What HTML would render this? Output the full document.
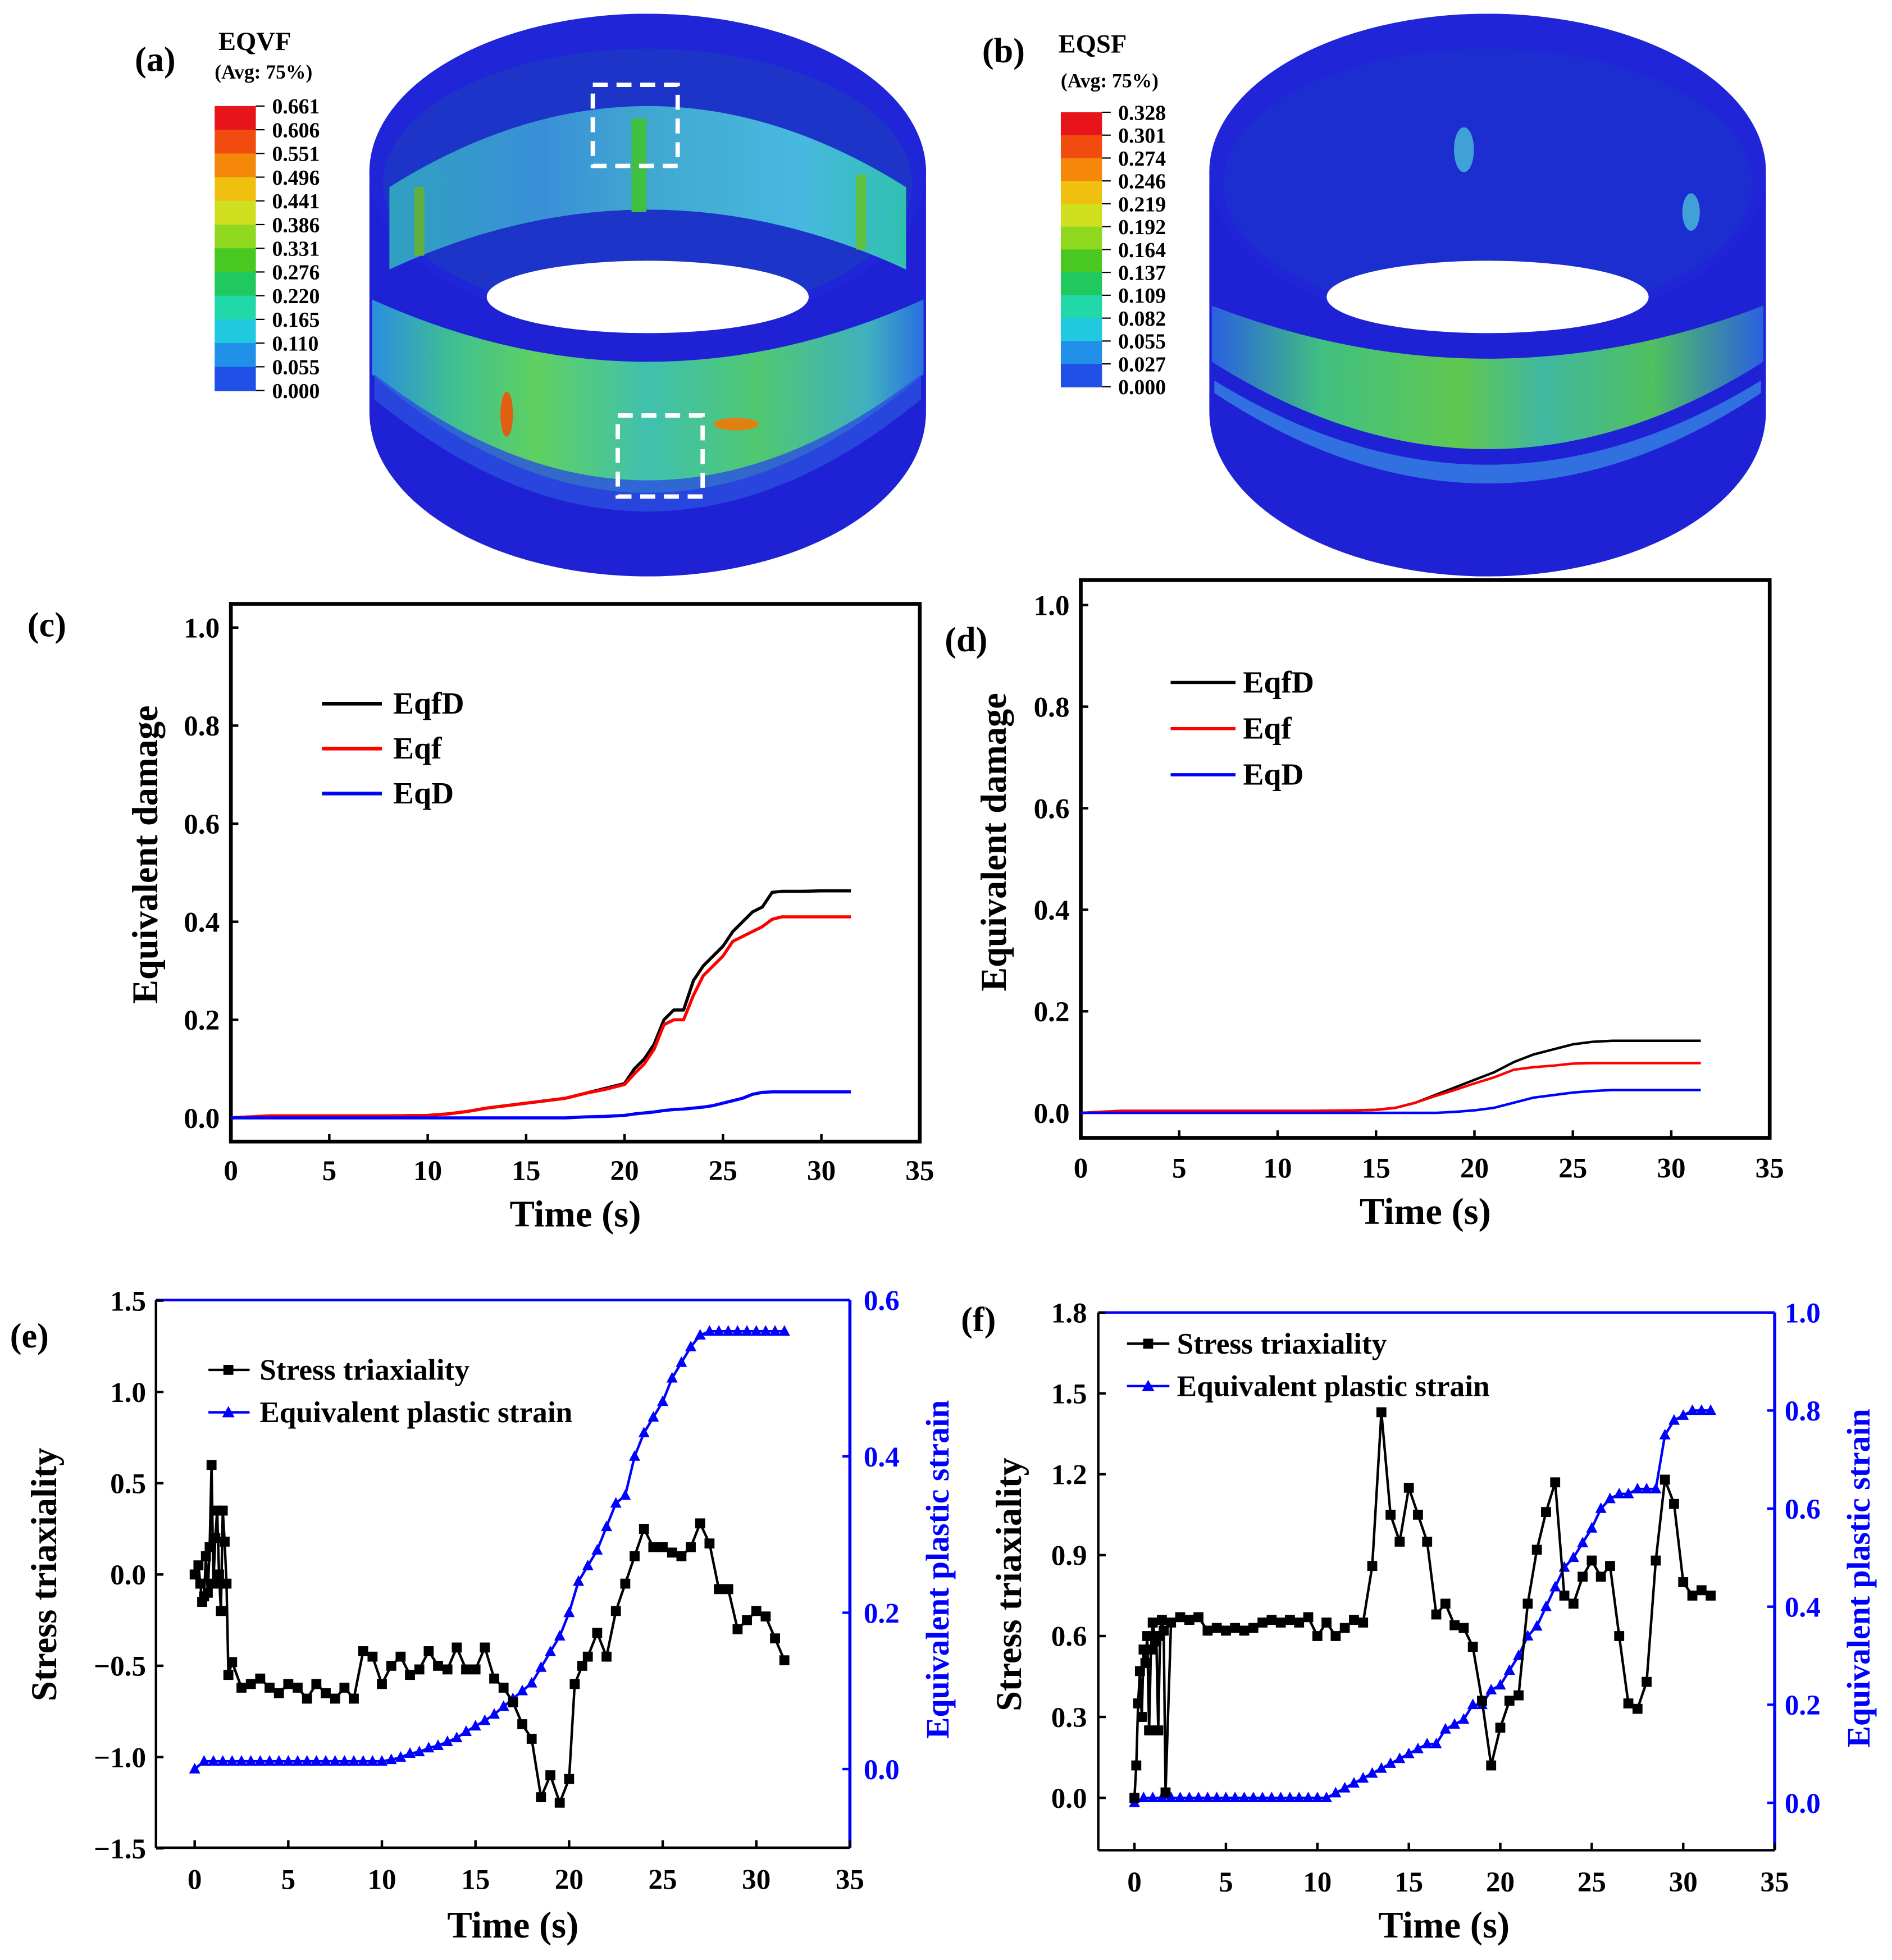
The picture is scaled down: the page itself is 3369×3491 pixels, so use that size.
<!DOCTYPE html>
<html><head><meta charset="utf-8"><style>
html,body{margin:0;padding:0;background:#fff;}
svg{display:block;}
text{font-family:"Liberation Serif",serif;font-weight:bold;}
</style></head><body>
<svg id="fig" xmlns="http://www.w3.org/2000/svg" width="3369" height="3491" viewBox="0 0 1516 1571" preserveAspectRatio="none">
<defs>
<linearGradient id="bandA" x1="0" x2="1" y1="0" y2="0">
<stop offset="0" stop-color="#2b8ee0"/><stop offset="0.15" stop-color="#40c090"/><stop offset="0.3" stop-color="#60d060"/><stop offset="0.5" stop-color="#40c0b0"/><stop offset="0.7" stop-color="#50c870"/><stop offset="0.9" stop-color="#40b0c0"/><stop offset="1" stop-color="#2a70e0"/>
</linearGradient>
<linearGradient id="innerA" x1="0" x2="1" y1="0" y2="0">
<stop offset="0" stop-color="#30a0c0"/><stop offset="0.3" stop-color="#3a90d8"/><stop offset="0.5" stop-color="#40a8d0"/><stop offset="0.8" stop-color="#48b8e0"/><stop offset="1" stop-color="#30c0b0"/>
</linearGradient>
<linearGradient id="bandB" x1="0" x2="1" y1="0" y2="0">
<stop offset="0" stop-color="#2a60e0"/><stop offset="0.2" stop-color="#40c080"/><stop offset="0.45" stop-color="#60c850"/><stop offset="0.6" stop-color="#40b8a0"/><stop offset="0.8" stop-color="#50c060"/><stop offset="1" stop-color="#2a60e0"/>
</linearGradient>
</defs>

<!-- Panel (a) -->
<g>
<text x="108" y="57" font-size="28">(a)</text>
<text x="175" y="40" font-size="21">EQVF</text>
<text x="172" y="63" font-size="16">(Avg: 75%)</text>
<g id="cbarA"></g>
<g>
<path d="M296,138 L296,330 A223,132 0 0 0 742,330 L742,138 A223,127 0 0 0 296,138 Z" fill="#1f22d4"/>
<path d="M298,240 Q519,340 740,240 L740,300 Q519,490 298,300 Z" fill="url(#bandA)"/>
<path d="M300,300 Q519,470 738,300 L738,320 Q519,500 300,320 Z" fill="#2a50e0" opacity="0.8"/>
<ellipse cx="406" cy="332" rx="5" ry="18" fill="#e06010"/>
<ellipse cx="590" cy="340" rx="18" ry="5" fill="#e08010"/>
<ellipse cx="519" cy="138" rx="223" ry="127" fill="#2026d8"/>
<ellipse cx="519" cy="147" rx="212" ry="108" fill="#1c34c8"/>
<path d="M312,150 Q519,20 726,150 L726,216 Q519,120 312,216 Z" fill="url(#innerA)"/>
<rect x="506" y="95" width="12" height="75" fill="#40c040"/>
<rect x="686" y="140" width="8" height="60" fill="#60c040"/>
<rect x="332" y="150" width="8" height="55" fill="#60b040"/>
<ellipse cx="519" cy="238" rx="129" ry="29" fill="#ffffff"/>
<rect x="475" y="68" width="68" height="65" fill="none" stroke="#fff" stroke-width="3.5" stroke-dasharray="12,7"/>
<rect x="495" y="333" width="68" height="65" fill="none" stroke="#fff" stroke-width="3.5" stroke-dasharray="12,7"/>
</g>
</g>

<!-- Panel (b) -->
<g>
<text x="787" y="50" font-size="28">(b)</text>
<text x="848" y="42" font-size="21">EQSF</text>
<text x="850" y="70" font-size="16">(Avg: 75%)</text>
<g id="cbarB"></g>
<g transform="translate(673,0)">
<path d="M296,138 L296,330 A223,132 0 0 0 742,330 L742,138 A223,127 0 0 0 296,138 Z" fill="#1f22d4"/>
<path d="M298,245 Q519,330 740,245 L740,290 Q519,430 298,290 Z" fill="url(#bandB)"/>
<path d="M300,305 Q519,440 738,305 L738,315 Q519,460 300,315 Z" fill="#3070e0"/>
<ellipse cx="519" cy="138" rx="223" ry="127" fill="#2026d8"/>
<ellipse cx="519" cy="147" rx="212" ry="108" fill="#1c2ed0"/>
<ellipse cx="500" cy="120" rx="8" ry="18" fill="#40a0d8"/>
<ellipse cx="682" cy="170" rx="7" ry="15" fill="#40a0d8"/>
<ellipse cx="519" cy="238" rx="129" ry="29" fill="#ffffff"/>
</g>
</g>

<!-- Panel (c) -->
<g>
<text x="22" y="510" font-size="28">(c)</text>
<rect x="185" y="484" width="552" height="431" fill="none" stroke="#000" stroke-width="3"/>
<g id="chartC"></g>
<text transform="translate(126,685) rotate(-90)" text-anchor="middle" font-size="29">Equivalent damage</text>
<text x="461" y="983" text-anchor="middle" font-size="30">Time (s)</text>
<g>
<line x1="258" y1="564" x2="306" y2="564" stroke="#000" stroke-width="3"/>
<text x="315" y="572" font-size="25">EqfD</text>
<line x1="258" y1="600" x2="306" y2="600" stroke="#ff0000" stroke-width="3"/>
<text x="315" y="608" font-size="25">Eqf</text>
<line x1="258" y1="636" x2="306" y2="636" stroke="#0000ff" stroke-width="3"/>
<text x="315" y="644" font-size="25">EqD</text>
</g>
</g>

<!-- Panel (d) -->
<g>
<text x="757" y="522" font-size="28">(d)</text>
<rect x="866" y="465" width="552" height="447" fill="none" stroke="#000" stroke-width="3"/>
<g id="chartD"></g>
<text transform="translate(806,675) rotate(-90)" text-anchor="middle" font-size="29">Equivalent damage</text>
<text x="1142" y="981" text-anchor="middle" font-size="30">Time (s)</text>
<g>
<line x1="938" y1="547" x2="990" y2="547" stroke="#000" stroke-width="2.5"/>
<text x="996" y="555" font-size="25">EqfD</text>
<line x1="938" y1="584" x2="990" y2="584" stroke="#ff0000" stroke-width="2.5"/>
<text x="996" y="592" font-size="25">Eqf</text>
<line x1="938" y1="621" x2="990" y2="621" stroke="#0000ff" stroke-width="2.5"/>
<text x="996" y="629" font-size="25">EqD</text>
</g>
</g>

<!-- Panel (e) -->
<g>
<text x="8" y="1080" font-size="28">(e)</text>
<line x1="125" y1="1042" x2="125" y2="1481" stroke="#000" stroke-width="2"/>
<line x1="125" y1="1481" x2="681" y2="1481" stroke="#000" stroke-width="2"/>
<line x1="125" y1="1042" x2="681" y2="1042" stroke="#0000ff" stroke-width="2"/>
<line x1="681" y1="1042" x2="681" y2="1481" stroke="#0000ff" stroke-width="2.5"/>
<g id="chartE"></g>
<text transform="translate(45,1262) rotate(-90)" text-anchor="middle" font-size="29">Stress triaxiality</text>
<text transform="translate(760,1258) rotate(-90)" text-anchor="middle" font-size="26" fill="#0000ff">Equivalent plastic strain</text>
<text x="411" y="1553" text-anchor="middle" font-size="30">Time (s)</text>
<g>
<line x1="167" y1="1098" x2="200" y2="1098" stroke="#000" stroke-width="2"/>
<rect x="179" y="1094" width="8" height="8" fill="#000"/>
<text x="208" y="1106" font-size="24">Stress triaxiality</text>
<line x1="167" y1="1132" x2="200" y2="1132" stroke="#0000ff" stroke-width="2"/>
<path d="M183,1127 L188,1136 L178,1136 Z" fill="#0000ff"/>
<text x="208" y="1140" font-size="24">Equivalent plastic strain</text>
</g>
</g>

<!-- Panel (f) -->
<g>
<text x="770" y="1067" font-size="28">(f)</text>
<line x1="880" y1="1052" x2="880" y2="1483" stroke="#000" stroke-width="2"/>
<line x1="880" y1="1483" x2="1422" y2="1483" stroke="#000" stroke-width="2"/>
<line x1="880" y1="1052" x2="1422" y2="1052" stroke="#0000ff" stroke-width="2"/>
<line x1="1422" y1="1052" x2="1422" y2="1483" stroke="#0000ff" stroke-width="2.5"/>
<g id="chartF"></g>
<text transform="translate(818,1270) rotate(-90)" text-anchor="middle" font-size="29">Stress triaxiality</text>
<text transform="translate(1498,1265) rotate(-90)" text-anchor="middle" font-size="26" fill="#0000ff">Equivalent plastic strain</text>
<text x="1157" y="1553" text-anchor="middle" font-size="30">Time (s)</text>
<g>
<line x1="903" y1="1077" x2="937" y2="1077" stroke="#000" stroke-width="2"/>
<rect x="916" y="1073" width="8" height="8" fill="#000"/>
<text x="943" y="1085" font-size="24">Stress triaxiality</text>
<line x1="903" y1="1111" x2="937" y2="1111" stroke="#0000ff" stroke-width="2"/>
<path d="M920,1106 L925,1115 L915,1115 Z" fill="#0000ff"/>
<text x="943" y="1119" font-size="24">Equivalent plastic strain</text>
</g>
</g>
</svg>
<script>
// ---------- data ----------
const cbarALabels = ["0.661","0.606","0.551","0.496","0.441","0.386","0.331","0.276","0.220","0.165","0.110","0.055","0.000"];
const cbarBLabels = ["0.328","0.301","0.274","0.246","0.219","0.192","0.164","0.137","0.109","0.082","0.055","0.027","0.000"];
const cbarColors = ["#e8141c","#f04c10","#f5880a","#f0c010","#d0e020","#90d820","#48c820","#20c860","#20d8a8","#20c8e0","#2090e8","#2050e8"];

const xTicks = [0,5,10,15,20,25,30,35];
const damageTicks = [0,0.2,0.4,0.6,0.8,1.0];
const damageTickLabels = ["0.0","0.2","0.4","0.6","0.8","1.0"];

const cTime = [0,2,5,8,10,11,12,13,14,15,16,17,18,19,20,20.5,21,21.5,22,22.5,23,23.5,24,24.5,25,25.5,26,26.5,27,27.5,28,29,30,31.5];
const cEqfD = [0,0.004,0.004,0.004,0.005,0.008,0.013,0.02,0.025,0.03,0.035,0.04,0.05,0.06,0.07,0.1,0.12,0.15,0.2,0.22,0.22,0.28,0.31,0.33,0.35,0.38,0.4,0.42,0.43,0.46,0.462,0.462,0.463,0.463];
const cEqf  = [0,0.004,0.004,0.004,0.005,0.008,0.013,0.02,0.025,0.03,0.035,0.04,0.05,0.058,0.068,0.09,0.11,0.14,0.19,0.2,0.2,0.25,0.29,0.31,0.33,0.36,0.37,0.38,0.39,0.405,0.41,0.41,0.41,0.41];
const cEqD  = [0,0,0,0,0,0,0,0,0,0,0,0,0.002,0.003,0.005,0.008,0.01,0.012,0.015,0.017,0.018,0.02,0.022,0.025,0.03,0.035,0.04,0.048,0.052,0.053,0.053,0.053,0.053,0.053];

const dTime = [0,2,5,8,10,12,14,15,16,17,18,19,20,21,22,23,24,25,26,27,28,30,31.5];
const dEqfD = [0,0.004,0.004,0.004,0.004,0.004,0.005,0.006,0.01,0.02,0.035,0.05,0.065,0.08,0.1,0.115,0.125,0.135,0.14,0.142,0.142,0.142,0.142];
const dEqf  = [0,0.004,0.004,0.004,0.004,0.004,0.005,0.006,0.01,0.02,0.033,0.045,0.058,0.07,0.085,0.09,0.093,0.097,0.098,0.098,0.098,0.098,0.098];
const dEqD  = [0,0,0,0,0,0,0,0,0,0,0,0.002,0.005,0.01,0.02,0.03,0.035,0.04,0.043,0.045,0.045,0.045,0.045];

const eStressTicks = [-1.5,-1.0,-0.5,0.0,0.5,1.0,1.5];
const eStressTickLabels = ["\u22121.5","\u22121.0","\u22120.5","0.0","0.5","1.0","1.5"];
const eStrainTicks = [0.0,0.2,0.4,0.6];
const eStrainTickLabels = ["0.0","0.2","0.4","0.6"];
const eStressTime = [0,0.2,0.3,0.4,0.5,0.6,0.7,0.8,0.9,1.0,1.1,1.2,1.3,1.4,1.5,1.6,1.7,1.8,2,2.5,3,3.5,4,4.5,5,5.5,6,6.5,7,7.5,8,8.5,9,9.5,10,10.5,11,11.5,12,12.5,13,13.5,14,14.5,15,15.5,16,16.5,17,17.5,18,18.5,19,19.5,20,20.3,20.7,21,21.5,22,22.5,23,23.5,24,24.5,25,25.5,26,26.5,27,27.5,28,28.5,29,29.5,30,30.5,31,31.5];
const eStress = [0,0.05,-0.05,-0.15,-0.12,0.1,-0.1,0.15,0.6,-0.05,0.2,0.35,0,-0.2,0.35,0.18,-0.05,-0.55,-0.48,-0.62,-0.6,-0.57,-0.62,-0.65,-0.6,-0.62,-0.68,-0.6,-0.65,-0.68,-0.62,-0.68,-0.42,-0.45,-0.6,-0.5,-0.45,-0.55,-0.52,-0.42,-0.5,-0.52,-0.4,-0.52,-0.52,-0.4,-0.57,-0.62,-0.7,-0.82,-0.9,-1.22,-1.1,-1.25,-1.12,-0.6,-0.5,-0.45,-0.32,-0.45,-0.2,-0.05,0.1,0.25,0.15,0.15,0.12,0.1,0.15,0.28,0.17,-0.08,-0.08,-0.3,-0.25,-0.2,-0.23,-0.35,-0.47];
const eStrainStep = 0.5;
const eStrain = [0,0.01,0.01,0.01,0.01,0.01,0.01,0.01,0.01,0.01,0.01,0.01,0.01,0.01,0.01,0.01,0.01,0.01,0.01,0.01,
 0.01,0.012,0.015,0.02,0.022,0.027,0.03,0.035,0.04,0.048,0.055,0.062,0.07,0.08,0.09,0.1,0.11,0.13,0.15,0.17,0.2,0.24,0.26,0.28,0.31,0.34,0.35,0.4,0.43,0.45,0.47,0.5,0.52,0.54,0.555,0.56,
 0.56,0.56,0.56,0.56,0.56,0.56,0.56,0.56];

const fStressTicks = [0.0,0.3,0.6,0.9,1.2,1.5,1.8];
const fStressTickLabels = ["0.0","0.3","0.6","0.9","1.2","1.5","1.8"];
const fStrainTicks = [0.0,0.2,0.4,0.6,0.8,1.0];
const fStrainTickLabels = ["0.0","0.2","0.4","0.6","0.8","1.0"];
const fStressTime = [0,0.1,0.2,0.3,0.4,0.5,0.6,0.7,0.8,0.9,1.0,1.1,1.2,1.3,1.4,1.5,1.6,1.7,2,2.5,3,3.5,4,4.5,5,5.5,6,6.5,7,7.5,8,8.5,9,9.5,10,10.5,11,11.5,12,12.5,13,13.5,14,14.5,15,15.5,16,16.5,17,17.5,18,18.5,19,19.5,20,20.5,21,21.5,22,22.5,23,23.5,24,24.5,25,25.5,26,26.5,27,27.5,28,28.5,29,29.5,30,30.5,31,31.5];
const fStress = [0,0.12,0.35,0.47,0.3,0.55,0.5,0.6,0.25,0.55,0.65,0.6,0.58,0.25,0.6,0.66,0.62,0.02,0.65,0.67,0.66,0.67,0.62,0.63,0.62,0.63,0.62,0.63,0.65,0.66,0.65,0.66,0.65,0.67,0.6,0.65,0.6,0.63,0.66,0.65,0.86,1.43,1.05,0.95,1.15,1.05,0.95,0.68,0.72,0.64,0.63,0.56,0.36,0.12,0.26,0.36,0.38,0.72,0.92,1.06,1.17,0.75,0.72,0.82,0.88,0.82,0.86,0.6,0.35,0.33,0.43,0.88,1.18,1.09,0.8,0.75,0.77,0.75];
const fStrainStep = 0.5;
const fStrain = [0,0.01,0.01,0.01,0.01,0.01,0.01,0.01,0.01,0.01,0.01,0.01,0.01,0.01,0.01,0.01,0.01,0.01,0.01,0.01,0.01,0.01,
 0.02,0.03,0.04,0.05,0.06,0.07,0.08,0.09,0.1,0.11,0.12,0.12,0.15,0.16,0.17,0.2,0.2,0.23,0.24,0.27,0.3,0.34,0.36,0.4,0.44,0.48,0.5,0.53,0.56,0.6,0.62,0.63,0.63,0.64,0.64,0.64,0.75,0.78,0.79,0.8,0.8,0.8];

// ---------- helpers ----------
const NS = "http://www.w3.org/2000/svg";
function el(tag, parent, attrs){ const e=document.createElementNS(NS,tag); for(const k in attrs) e.setAttribute(k,attrs[k]); parent.appendChild(e); return e; }
function scale(d0,d1,p0,p1){ return v => p0+(v-d0)*(p1-p0)/(d1-d0); }

function colorbar(gid, x, y0, y1, labels, lx, prefix){
  const g=document.getElementById(gid);
  const n=cbarColors.length, h=(y1-y0)/n;
  cbarColors.forEach((c,i)=>{
    const r=el('rect',g,{x:x,y:y0+i*h,width:33,height:h+0.5,fill:c});
    
    
  });
  labels.forEach((t,i)=>{
    const l=el('line',g,{x1:x+33,y1:y0+i*h,x2:x+40,y2:y0+i*h,stroke:'#000','stroke-width':1});
    
    
    const tx=el('text',g,{x:lx,y:y0+i*h+6,'font-size':17});
    tx.textContent=t;
    
    
  });
}
colorbar('cbarA',172,85,313,cbarALabels,218,'eqvf');
colorbar('cbarB',850,90,310,cbarBLabels,896,'eqsf');

function xAxis(g, sx, yb, ylab, name){
  xTicks.forEach(v=>{
    const t=el('line',g,{x1:sx(v),y1:yb,x2:sx(v),y2:yb-6,stroke:'#000','stroke-width':2});
    
    
    const tx=el('text',g,{x:sx(v),y:ylab,'text-anchor':'middle','font-size':23});
    tx.textContent=String(v);
    
    
  });
}
function yAxis(g, sy, vals, labs, xa, xlab, anchor, color, dir, name){
  vals.forEach((v,i)=>{
    const t=el('line',g,{x1:xa,y1:sy(v),x2:xa+dir*6,y2:sy(v),stroke:color,'stroke-width':2});
    
    
    const tx=el('text',g,{x:xlab,y:sy(v)+8,'text-anchor':anchor,'font-size':23,fill:color});
    tx.textContent=labs[i];
    
    
  });
}
function line(g, xs, ys, sx, sy, color, w){
  let d='';
  xs.forEach((x,i)=>{ d+=(i?'L':'M')+sx(x).toFixed(2)+','+sy(ys[i]).toFixed(2); });
  return el('path',g,{d:d,fill:'none',stroke:color,'stroke-width':w,'stroke-linejoin':'round'});
}

(function(){
  const g=document.getElementById('chartC');
  const sx=scale(0,35,185,737), sy=scale(0,1,896,503);
  xAxis(g,sx,915,946,'chart-c');
  yAxis(g,sy,damageTicks,damageTickLabels,185,176,'end','#000',1,'chart-c-y');
  const p1=line(g,cTime,cEqfD,sx,sy,'#000',2.5);
  
  
  const p2=line(g,cTime,cEqf,sx,sy,'#ff0000',2.5);
  
  
  const p3=line(g,cTime,cEqD,sx,sy,'#0000ff',2.5);
  
  
})();

(function(){
  const g=document.getElementById('chartD');
  const sx=scale(0,35,866,1418), sy=scale(0,1,892,485);
  xAxis(g,sx,912,944,'chart-d');
  yAxis(g,sy,damageTicks,damageTickLabels,866,857,'end','#000',1,'chart-d-y');
  const p1=line(g,dTime,dEqfD,sx,sy,'#000',2);
  
  
  const p2=line(g,dTime,dEqf,sx,sy,'#ff0000',2);
  
  
  const p3=line(g,dTime,dEqD,sx,sy,'#0000ff',2);
  
  
})();

function dual(gid, sx, sy, sy2, stressT, stress, strainStep, strain, name){
  const g=document.getElementById(gid);
  const st=strain.map((v,i)=>i*strainStep);
  const p=line(g,st,strain,sx,sy2,'#0000ff',2);
  
  
  st.forEach((t,i)=>{
    const x=sx(t), y=sy2(strain[i]);
    const m=el('path',g,{d:`M${x},${y-5}L${x+4.5},${y+3.5}L${x-4.5},${y+3.5}Z`,fill:'#0000ff'});
    
    
  });
  const q=line(g,stressT,stress,sx,sy,'#000',2);
  
  
  stressT.forEach((t,i)=>{
    const m=el('rect',g,{x:sx(t)-4,y:sy(stress[i])-4,width:8,height:8,fill:'#000'});
    
    
  });
}

(function(){
  const g=document.getElementById('chartE');
  const sx=scale(0,35,156,681), sy=scale(0,1.5,1262,1042.5), sy2=scale(0,0.6,1418,1042);
  xAxis(g,sx,1481,1514,'chart-e');
  yAxis(g,sy,eStressTicks,eStressTickLabels,125,117,'end','#000',1,'chart-e-y');
  yAxis(g,sy2,eStrainTicks,eStrainTickLabels,681,692,'start','#0000ff',-1,'chart-e-y2');
  dual('chartE',sx,sy,sy2,eStressTime,eStress,eStrainStep,eStrain,'e');
})();

(function(){
  const g=document.getElementById('chartF');
  const sx=scale(0,35,909,1422), sy=scale(0,1.8,1441,1052), sy2=scale(0,1,1445,1052);
  xAxis(g,sx,1483,1516,'chart-f');
  yAxis(g,sy,fStressTicks,fStressTickLabels,880,871,'end','#000',1,'chart-f-y');
  yAxis(g,sy2,fStrainTicks,fStrainTickLabels,1422,1430,'start','#0000ff',-1,'chart-f-y2');
  dual('chartF',sx,sy,sy2,fStressTime,fStress,fStrainStep,fStrain,'f');
})();
</script>
</body></html>
